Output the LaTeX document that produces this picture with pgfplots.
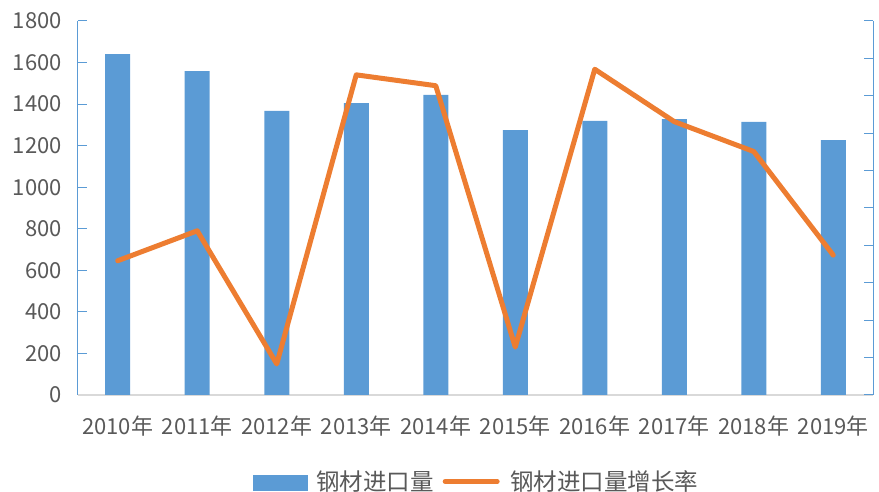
\documentclass[border=0pt]{standalone}
\usepackage{pgfplots}
\pgfplotsset{compat=1.18}
\usepackage{fontspec}
\setmainfont{Noto Sans CJK SC}
\definecolor{barblue}{HTML}{5B9BD5}
\definecolor{lineorange}{HTML}{ED7D31}
\definecolor{textgray}{HTML}{595959}
\definecolor{axisgray}{HTML}{D9D9D9}
\begin{document}
\begin{tikzpicture}
\useasboundingbox (-78pt,-97pt) rectangle (801pt,395pt);
\begin{axis}[
  scale only axis, width=795pt, height=374pt,
  at={(0,0)}, anchor=south west,
  xmin=-0.5, xmax=9.5, ymin=0, ymax=1800,
  ytick={0,200,...,1800},
  xtick={0,...,9},
  xticklabels={2010年,2011年,2012年,2013年,2014年,2015年,2016年,2017年,2018年,2019年},
  axis x line*=bottom, axis y line*=left,
  tick align=inside,
  major tick length=9pt,
  x axis line style={draw=axisgray, line width=1.2pt},
  y axis line style={draw=barblue, line width=1pt},
  ytick style={draw=barblue, line width=1pt},
  xtick style={draw=none},
  /pgf/number format/1000 sep={},
  /pgf/number format/assume math mode=true,
  tick label style={font=\fontsize{22}{26}\selectfont, text=textgray, inner sep=0pt},
  yticklabel style={anchor=east, xshift=-16pt},
  xticklabel style={anchor=center, yshift=-31pt},
  clip=false,
]
\addplot[ybar, bar width=25pt, fill=barblue, draw=none] coordinates {
  (0,1641) (1,1559) (2,1367) (3,1405) (4,1444) (5,1275) (6,1319) (7,1328) (8,1314) (9,1227)};
\end{axis}
\begin{axis}[
  scale only axis, width=795pt, height=374pt,
  at={(0,0)}, anchor=south west,
  xmin=-0.5, xmax=9.5, ymin=0, ymax=10,
  ytick={0,...,10}, yticklabels={},
  axis y line*=right, axis x line=none,
  tick align=inside,
  major tick length=9pt,
  y axis line style={draw=barblue, line width=1pt},
  ytick style={draw=barblue, line width=1pt},
  clip=false,
  legend columns=2,
  legend style={at={(0.5,-0.2299)}, anchor=center, draw=none, fill=none,
    font=\fontsize{23.5}{27}\selectfont, text=textgray,
    nodes={inner sep=0pt},
    /tikz/column 1/.style={column sep=9pt},
    /tikz/column 2/.style={column sep=9pt},
    /tikz/column 3/.style={column sep=10.5pt}},
]
\addlegendimage{legend image code/.code={\fill[barblue] (0pt,-9pt) rectangle (54pt,6pt);}}
\addlegendentry{钢材进口量}
\addplot[lineorange, line width=5pt, line join=round, line cap=round,
  legend image code/.code={\draw[lineorange, line width=5pt, line cap=round] (2.5pt,-0.5pt) -- (54.5pt,-0.5pt);}] coordinates {
  (0,3.59) (1,4.39) (2,0.83) (3,8.56) (4,8.27) (5,1.28) (6,8.71) (7,7.31) (8,6.51) (9,3.74)};
\addlegendentry{钢材进口量增长率}
\end{axis}
\end{tikzpicture}
\end{document}
